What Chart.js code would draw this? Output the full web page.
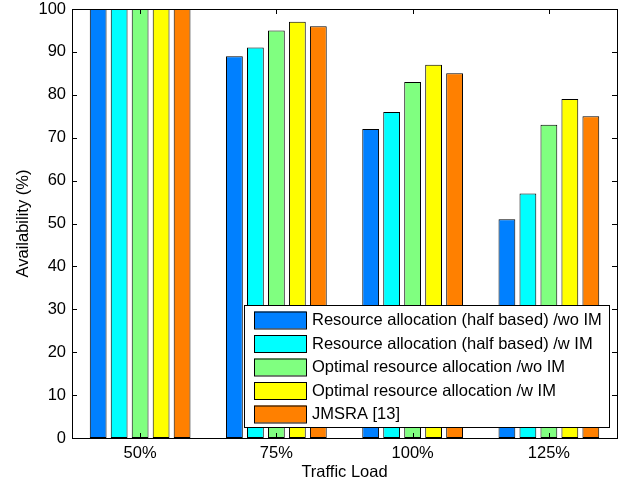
<!DOCTYPE html>
<html lang="en">
<head>
    <meta charset="UTF-8">
    <title>Availability vs Traffic Load</title>
    <style>
        body { margin: 0; padding: 0; background: #fff; }
        #wrap { width: 629px; height: 486px; }
    </style>
</head>
<body>
    <div id="wrap"><canvas id="availChart" width="629" height="486"></canvas></div>

    <script src="https://cdn.jsdelivr.net/npm/chart.js"></script>
    <script>
        // data
        const loads = ['50%', '75%', '100%', '125%'];
        const seriesNames = [
            'Resource allocation (half based) /wo IM',
            'Resource allocation (half based) /w IM',
            'Optimal resource allocation /wo IM',
            'Optimal resource allocation /w IM',
            'JMSRA [13]'
        ];
        const halfWoIM = [100, 89, 72, 51];
        const halfWIM = [100, 91, 76, 57];
        const optWoIM = [100, 95, 83, 73];
        const optWIM = [100, 97, 87, 79];
        const jmsra = [100, 96, 85, 75];
        const yTicks = [0, 10, 20, 30, 40, 50, 60, 70, 80, 90, 100];

        const colors = ['#0080ff', '#00ffff', '#80ff80', '#ffff00', '#ff8000'];
        const seriesValues = [halfWoIM, halfWIM, optWoIM, optWIM, jmsra];
        const FONT = 'Liberation Sans, Arial, Helvetica, sans-serif';
        const FS = 16.5;

        // matlab-ish frame: box, inward ticks on all four sides, legend inside
        const matlabFrame = {
            id: 'matlabFrame',
            afterDraw(chart) {
                const ctx = chart.ctx;
                const a = chart.chartArea;
                const xs = chart.scales.x, ys = chart.scales.y;
                const tl = 5;
                ctx.save();
                ctx.strokeStyle = '#000';
                ctx.lineWidth = 1;
                ctx.beginPath();
                yTicks.forEach(v => {
                    const py = Math.round(ys.getPixelForValue(v)) + 0.5;
                    ctx.moveTo(a.left, py); ctx.lineTo(a.left + tl, py);
                    ctx.moveTo(a.right, py); ctx.lineTo(a.right - tl, py);
                });
                loads.forEach((c, i) => {
                    const px = Math.round(xs.getPixelForValue(i)) + 0.5;
                    ctx.moveTo(px, a.bottom); ctx.lineTo(px, a.bottom - tl);
                    ctx.moveTo(px, a.top); ctx.lineTo(px, a.top + tl);
                });
                ctx.stroke();
                ctx.strokeRect(Math.round(a.left) + 0.5, Math.round(a.top) + 0.5,
                    Math.round(a.right - a.left), Math.round(a.bottom - a.top));

                // legend box
                const lx = 244, ly = 305, lw = 365, lh = 122;
                ctx.fillStyle = '#fff';
                ctx.fillRect(lx, ly, lw, lh);
                ctx.strokeRect(lx + 0.5, ly + 0.5, lw, lh);
                ctx.font = FS + 'px ' + FONT;
                ctx.textBaseline = 'middle';
                chart.data.datasets.forEach((ds, i) => {
                    const cy = ly + 14.5 + i * 23.5;
                    ctx.fillStyle = ds.backgroundColor;
                    ctx.fillRect(254, cy - 8, 52, 17);
                    ctx.strokeRect(254.5, cy - 7.5, 52, 17);
                    ctx.fillStyle = '#000';
                    ctx.fillText(ds.label, 312, cy + 1);
                });
                ctx.restore();
            }
        };

        new Chart(document.getElementById('availChart'), {
            type: 'bar',
            data: {
                labels: loads,
                datasets: seriesNames.map((name, i) => ({
                    label: name,
                    data: seriesValues[i],
                    backgroundColor: colors[i],
                    borderColor: '#000',
                    borderWidth: 1,
                    borderSkipped: false,
                    categoryPercentage: 0.77,
                    barPercentage: 0.8
                }))
            },
            options: {
                responsive: false,
                animation: false,
                layout: { padding: { top: 9, right: 12, left: 0, bottom: 0 } },
                plugins: {
                    legend: { display: false },
                    tooltip: { enabled: false }
                },
                scales: {
                    x: {
                        grid: { display: false, drawTicks: false },
                        border: { display: false },
                        ticks: { color: '#000', font: { family: FONT, size: FS }, padding: 6 },
                        title: {
                            display: true, text: 'Traffic Load', color: '#000',
                            font: { family: FONT, size: FS }, padding: { top: 0, bottom: 4 }
                        },
                        afterFit(s) { s.height = 48; s.paddingLeft = 0; s.paddingRight = 0; }
                    },
                    y: {
                        min: 0, max: 100,
                        grid: { display: false, drawTicks: false },
                        border: { display: false },
                        ticks: { stepSize: 10, color: '#000', font: { family: FONT, size: FS }, padding: 6 },
                        title: {
                            display: true, text: 'Availability (%)', color: '#000',
                            font: { family: FONT, size: FS }, padding: { top: 14, bottom: 0 }
                        },
                        afterFit(s) { s.width = 72; s.paddingTop = 0; s.paddingBottom = 0; }
                    }
                }
            },
            plugins: [matlabFrame]
        });
    </script>
</body>
</html>
